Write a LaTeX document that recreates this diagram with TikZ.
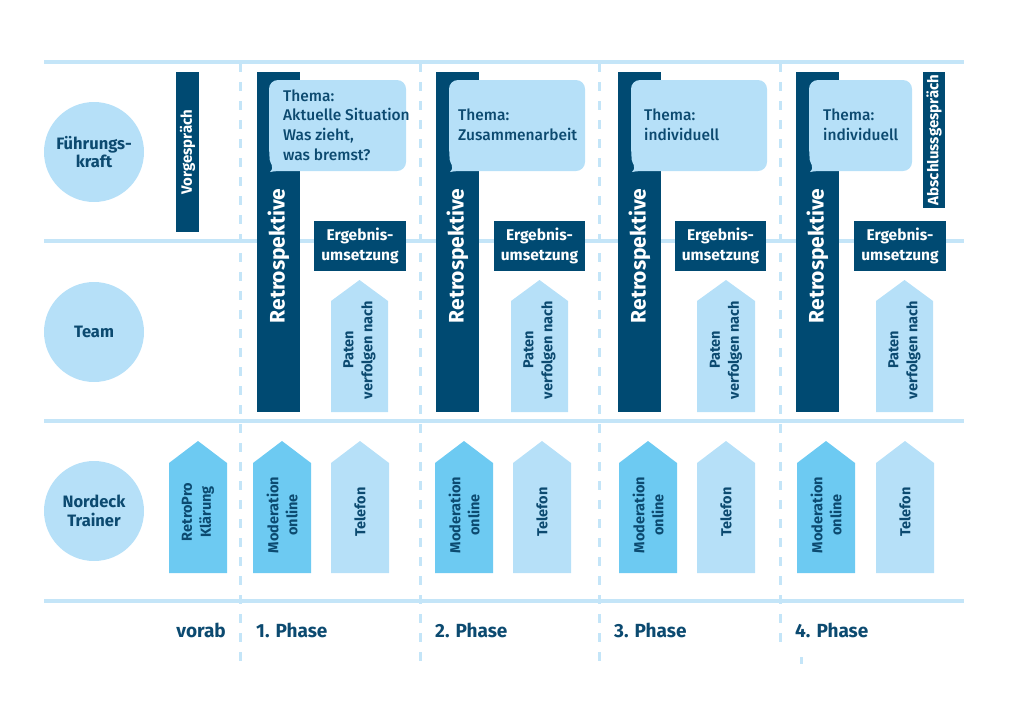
\documentclass[tikz,border=0pt]{standalone}
\usepackage{fontspec}
\setmainfont{Fira Sans}
\IfFontExistsTF{Fira Sans Medium}{\newfontfamily\bubblefont{Fira Sans Medium}}{\newfontfamily\bubblefont{Fira Sans}}
\definecolor{navy}{HTML}{004A72}
\definecolor{txt}{HTML}{0C4A70}
\definecolor{lite}{HTML}{B6E0F8}
\definecolor{mid}{HTML}{6DCAF2}
\definecolor{rulec}{HTML}{C4E5F8}
\tikzset{
  hrule/.style={draw=rulec, line width=3.5pt},
  vrule/.style={draw=rulec, line width=3pt, dash pattern=on 9pt off 10pt},
  role/.style={circle, fill=lite, minimum size=100pt, inner sep=0pt, text=txt, align=center,
    font=\bfseries\fontsize{16.5}{18.5}\selectfont},
  retrotext/.style={rotate=90, text=white, font=\bfseries\fontsize{21}{24}\selectfont},
  smallbartext/.style={rotate=90, text=white, font=\bfseries\fontsize{15}{18}\selectfont},
  boxtext/.style={text=white, align=center, font=\bfseries\fontsize{15.5}{19.5}\selectfont},
  arrowtext/.style={rotate=90, text=txt, align=center, font=\bfseries\fontsize{14.5}{19}\selectfont},
  bubbletext/.style={anchor=west, inner sep=0pt, text=txt, align=left, font=\bubblefont\fontsize{15.5}{19.6}\selectfont},
  phasetext/.style={inner sep=0pt, text=txt, font=\bfseries\fontsize{19}{22}\selectfont},
}
% x0 x1 ytip yshoulder ybottom colour
\newcommand\pentabox[6]{\fill[#6] (#1,#5) -- (#1,#4) -- ({(#1+#2)/2},#3) -- (#2,#4) -- (#2,#5) -- cycle;}
% x0 y0 x1 y1
\newcommand\bubbleshape[4]{\fill[lite] (#1+1,#4+1) .. controls (#1+6,#4) and (#1+10,#4) .. (#1+16,#4)
  [rounded corners=9pt] -- (#3,#4) -- (#3,#2) -- (#1,#2) -- (#1,#4-20) [sharp corners]
  .. controls (#1+1,#4-8) and (#1+6,#4-4) .. (#1+1,#4+1) -- cycle;}
\begin{document}
\begin{tikzpicture}[x=1pt,y=-1pt]
\useasboundingbox (0,0) rectangle (1030,726);
% grid
\foreach \yy in {62,241,421,601} \draw[hrule] (44,\yy) -- (964,\yy);
\foreach \xx in {240,420,599} \draw[vrule] (\xx,63) -- (\xx,662);
\draw[vrule] (780,63) -- (780,650);
\draw[rulec, line width=3pt] (801,657) -- (801,664);
% role circles
\node[role] (fk) at (94,152) {Führungs-\\kraft};
\node[role] (team) at (94,332) {Team};
\node[role] (nt) at (94,511) {Nordeck\\Trainer};
% vorab
\fill[navy] (176,72) rectangle (199,232);
\node[smallbartext] (vg) at (187.5,152) {Vorgespräch};
\pentabox{169}{227}{441}{463}{573}{mid}
\node[arrowtext] (rp) at (198,512) {RetroPro\\Klärung};
% phases
\foreach \rl/\bl/\br/\el/\er/\pl/\pr/\ml/\tel/\n in
  {257/269/406/314/406/331/388/253/331/1,
   436/449/585/494/585/511/568/435/513/2,
   618/631/767/675/766/697/755/619/697/3,
   796/809/912/854/946/876/933/797/876/4}{
  \fill[navy] (\rl,72) rectangle (\rl+43,412);
  \bubbleshape{\bl}{80}{\br}{171}
  \node[retrotext] (retro\n) at (\rl+21.5,256) {Retrospektive};
  \fill[navy] (\el,221) rectangle (\er,271);
  \node[boxtext] (erg\n) at ({(\el+\er)/2},246) {Ergebnis-\\umsetzung};
  \pentabox{\pl}{\pr}{280}{301}{412}{lite}
  \node[arrowtext] (paten\n) at ({(\pl+\pr)/2},350) {Paten\\verfolgen nach};
  \pentabox{\ml}{\ml+58}{441}{463}{573}{mid}
  \node[arrowtext] (mod\n) at (\ml+29,515) {Moderation\\online};
  \pentabox{\tel}{\tel+58}{441}{463}{573}{lite}
  \node[arrowtext] (tel\n) at (\tel+29,512) {Telefon};
}
\node[bubbletext] (th1) at (283,125) {Thema:\\Aktuelle Situation\\Was zieht,\\was bremst?};
\node[bubbletext] (th2) at (458,125) {Thema:\\Zusammenarbeit};
\node[bubbletext] (th3) at (644,125) {Thema:\\individuell};
\node[bubbletext] (th4) at (823,125) {Thema:\\individuell};
% Abschluss
\fill[navy] (923,72) rectangle (945,208);
\node[smallbartext] (ab) at (934,140) {Abschlussgespräch};
% phase labels
\node[phasetext, anchor=base east] (vorab) at (226,637) {vorab};
\node[phasetext, anchor=base west] (p1) at (256,637) {1. Phase};
\node[phasetext, anchor=base west] (p2) at (435,637) {2. Phase};
\node[phasetext, anchor=base west] (p3) at (614,637) {3. Phase};
\node[phasetext, anchor=base west] (p4) at (795,637) {4. Phase};
\end{tikzpicture}
\end{document}
